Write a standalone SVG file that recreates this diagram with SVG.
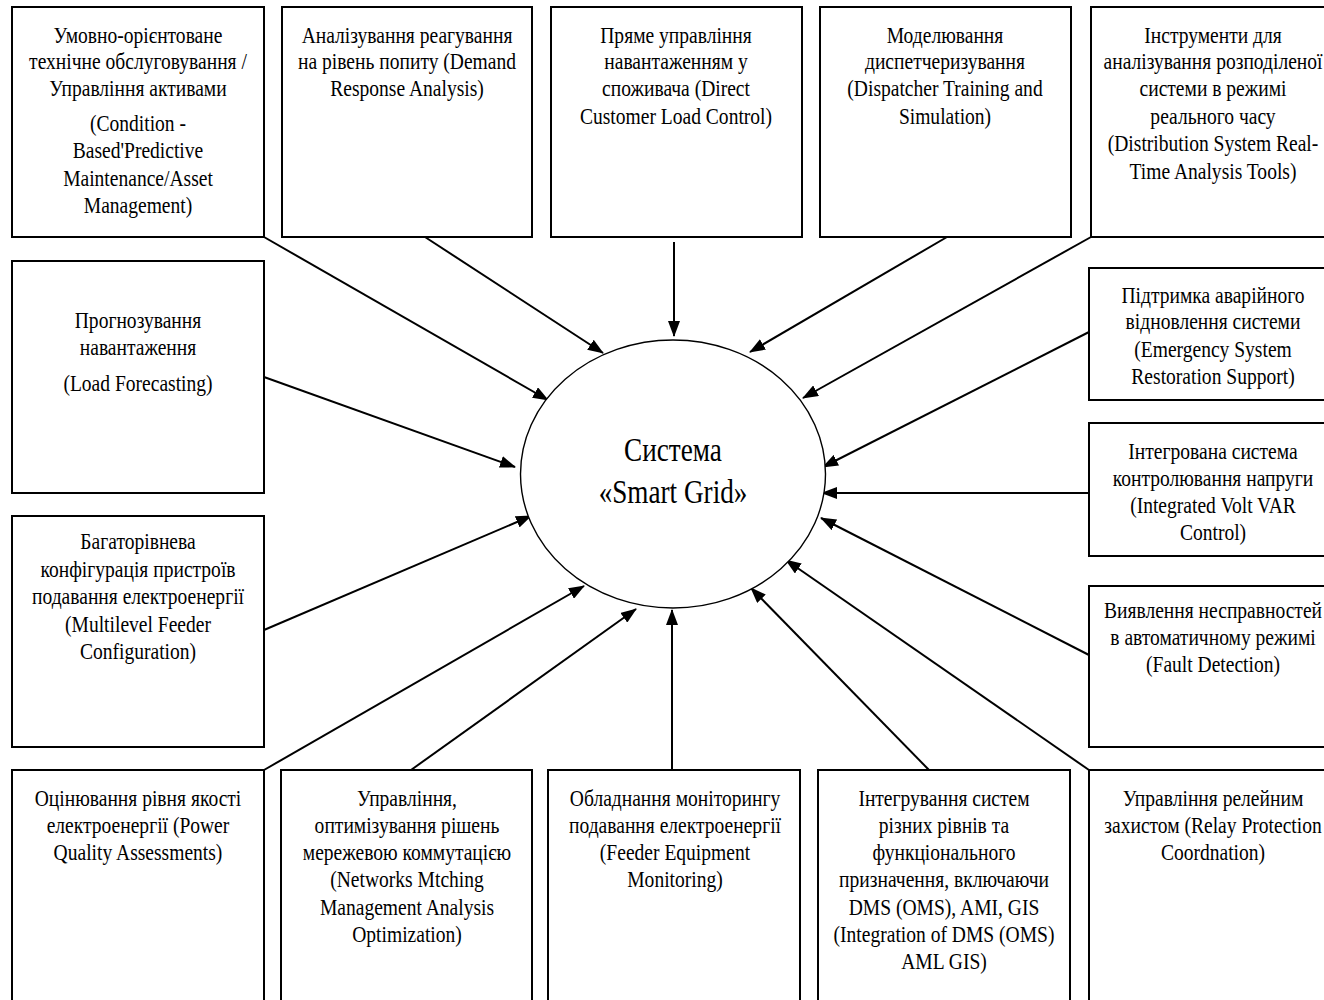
<svg xmlns="http://www.w3.org/2000/svg" width="1324" height="1000" viewBox="0 0 1324 1000">
<defs>
<style>
.box{fill:#fff;stroke:#000;stroke-width:2}
.t{font-family:"Liberation Serif","Times New Roman",serif;font-size:23px;fill:#000;text-anchor:middle}
.big{font-family:"Liberation Serif","Times New Roman",serif;font-size:34px;fill:#000;text-anchor:middle}
.c{stroke:#000;stroke-width:2;fill:none;marker-end:url(#ah)}
</style>
<marker id="ah" markerUnits="userSpaceOnUse" markerWidth="16" markerHeight="12" refX="15" refY="6" orient="auto" viewBox="0 0 16 12"><path d="M0,0 L16,6 L0,12 z" fill="#000"/></marker>
</defs>
<rect width="1324" height="1000" fill="#fff"/>

<g id="connectors">
<line class="c" x1="264" y1="237" x2="548" y2="400"/>
<line class="c" x1="425" y1="237" x2="603" y2="353"/>
<line class="c" x1="674" y1="242" x2="674" y2="336"/>
<line class="c" x1="947" y1="237" x2="750" y2="352"/>
<line class="c" x1="1091" y1="237" x2="803" y2="398"/>
<line class="c" x1="1089" y1="332" x2="823" y2="467"/>
<line class="c" x1="1089" y1="493" x2="822" y2="493"/>
<line class="c" x1="1089" y1="655" x2="821" y2="518"/>
<line class="c" x1="1089" y1="770" x2="786" y2="560"/>
<line class="c" x1="929" y1="770" x2="751" y2="588"/>
<line class="c" x1="672" y1="770" x2="672" y2="610"/>
<line class="c" x1="411" y1="770" x2="636" y2="609"/>
<line class="c" x1="264" y1="770" x2="584" y2="586"/>
<line class="c" x1="264" y1="630" x2="531" y2="516"/>
<line class="c" x1="264" y1="377" x2="515" y2="467"/>
</g>

<g id="center">
<ellipse cx="673" cy="474" rx="152.5" ry="134" fill="#fff" stroke="#000" stroke-width="1.4"/>
<text class="big" transform="translate(673 0) scale(.8 1)"><tspan x="0" y="461">Система</tspan><tspan x="0" y="503">«Smart Grid»</tspan></text>
</g>

<g id="n1">
<rect class="box" x="12" y="7" width="252" height="230"/>
<text class="t" transform="translate(138 0) scale(.85 1)"><tspan x="0" y="43">Умовно-орієнтоване</tspan><tspan x="0" y="69">технічне обслуговування /</tspan><tspan x="0" y="96">Управління активами</tspan><tspan x="0" y="131">(Condition -</tspan><tspan x="0" y="158">Based'Predictive</tspan><tspan x="0" y="186">Maintenance/Asset</tspan><tspan x="0" y="213">Management)</tspan></text>
</g>
<g id="n2">
<rect class="box" x="282" y="7" width="250" height="230"/>
<text class="t" transform="translate(407 0) scale(.85 1)"><tspan x="0" y="43">Аналізування реагування</tspan><tspan x="0" y="69">на рівень попиту (Demand</tspan><tspan x="0" y="96">Response Analysis)</tspan></text>
</g>
<g id="n3">
<rect class="box" x="551" y="7" width="251" height="230"/>
<text class="t" transform="translate(676 0) scale(.85 1)"><tspan x="0" y="43">Пряме управління</tspan><tspan x="0" y="69">навантаженням у</tspan><tspan x="0" y="96">споживача (Direct</tspan><tspan x="0" y="124">Customer Load Control)</tspan></text>
</g>
<g id="n4">
<rect class="box" x="820" y="7" width="251" height="230"/>
<text class="t" transform="translate(945 0) scale(.85 1)"><tspan x="0" y="43">Моделювання</tspan><tspan x="0" y="69">диспетчеризування</tspan><tspan x="0" y="96">(Dispatcher Training and</tspan><tspan x="0" y="124">Simulation)</tspan></text>
</g>
<g id="n5">
<rect class="box" x="1091" y="7" width="251" height="230"/>
<text class="t" transform="translate(1213 0) scale(.85 1)"><tspan x="0" y="43">Інструменти для</tspan><tspan x="0" y="69">аналізування розподіленої</tspan><tspan x="0" y="96">системи в режимі</tspan><tspan x="0" y="124">реального часу</tspan><tspan x="0" y="151">(Distribution System Real-</tspan><tspan x="0" y="179">Time Analysis Tools)</tspan></text>
</g>

<g id="n6">
<rect class="box" x="12" y="261" width="252" height="232"/>
<text class="t" transform="translate(138 0) scale(.85 1)"><tspan x="0" y="328">Прогнозування</tspan><tspan x="0" y="355">навантаження</tspan><tspan x="0" y="391">(Load Forecasting)</tspan></text>
</g>
<g id="n7">
<rect class="box" x="12" y="516" width="252" height="231"/>
<text class="t" transform="translate(138 0) scale(.85 1)"><tspan x="0" y="549">Багаторівнева</tspan><tspan x="0" y="577">конфігурація пристроїв</tspan><tspan x="0" y="604">подавання електроенергії</tspan><tspan x="0" y="632">(Multilevel Feeder</tspan><tspan x="0" y="659">Configuration)</tspan></text>
</g>

<g id="n8">
<rect class="box" x="1089" y="268" width="253" height="132"/>
<text class="t" transform="translate(1213 0) scale(.85 1)"><tspan x="0" y="303">Підтримка аварійного</tspan><tspan x="0" y="329">відновлення системи</tspan><tspan x="0" y="357">(Emergency System</tspan><tspan x="0" y="384">Restoration Support)</tspan></text>
</g>
<g id="n9">
<rect class="box" x="1089" y="423" width="253" height="133"/>
<text class="t" transform="translate(1213 0) scale(.85 1)"><tspan x="0" y="459">Інтегрована система</tspan><tspan x="0" y="486">контролювання напруги</tspan><tspan x="0" y="513">(Integrated Volt VAR</tspan><tspan x="0" y="540">Control)</tspan></text>
</g>
<g id="n10">
<rect class="box" x="1089" y="586" width="253" height="161"/>
<text class="t" transform="translate(1213 0) scale(.85 1)"><tspan x="0" y="618">Виявлення несправностей</tspan><tspan x="0" y="645">в автоматичному режимі</tspan><tspan x="0" y="672">(Fault Detection)</tspan></text>
</g>

<g id="n11">
<rect class="box" x="12" y="770" width="252" height="240"/>
<text class="t" transform="translate(138 0) scale(.85 1)"><tspan x="0" y="806">Оцінювання рівня якості</tspan><tspan x="0" y="833">електроенергії (Power</tspan><tspan x="0" y="860">Quality Assessments)</tspan></text>
</g>
<g id="n12">
<rect class="box" x="281" y="770" width="251" height="240"/>
<text class="t" transform="translate(407 0) scale(.85 1)"><tspan x="0" y="806">Управління,</tspan><tspan x="0" y="833">оптимізування рішень</tspan><tspan x="0" y="860">мережевою коммутацією</tspan><tspan x="0" y="887">(Networks Mtching</tspan><tspan x="0" y="915">Management Analysis</tspan><tspan x="0" y="942">Optimization)</tspan></text>
</g>
<g id="n13">
<rect class="box" x="548" y="770" width="252" height="240"/>
<text class="t" transform="translate(675 0) scale(.85 1)"><tspan x="0" y="806">Обладнання моніторингу</tspan><tspan x="0" y="833">подавання електроенергії</tspan><tspan x="0" y="860">(Feeder Equipment</tspan><tspan x="0" y="887">Monitoring)</tspan></text>
</g>
<g id="n14">
<rect class="box" x="818" y="770" width="252" height="240"/>
<text class="t" transform="translate(944 0) scale(.85 1)"><tspan x="0" y="806">Інтегрування систем</tspan><tspan x="0" y="833">різних рівнів та</tspan><tspan x="0" y="860">функціонального</tspan><tspan x="0" y="887">призначення, включаючи</tspan><tspan x="0" y="915">DMS (OMS), AMI, GIS</tspan><tspan x="0" y="942">(Integration of DMS (OMS)</tspan><tspan x="0" y="969">AML GIS)</tspan></text>
</g>
<g id="n15">
<rect class="box" x="1089" y="770" width="253" height="240"/>
<text class="t" transform="translate(1213 0) scale(.85 1)"><tspan x="0" y="806">Управління релейним</tspan><tspan x="0" y="833">захистом (Relay Protection</tspan><tspan x="0" y="860">Coordnation)</tspan></text>
</g>
</svg>
